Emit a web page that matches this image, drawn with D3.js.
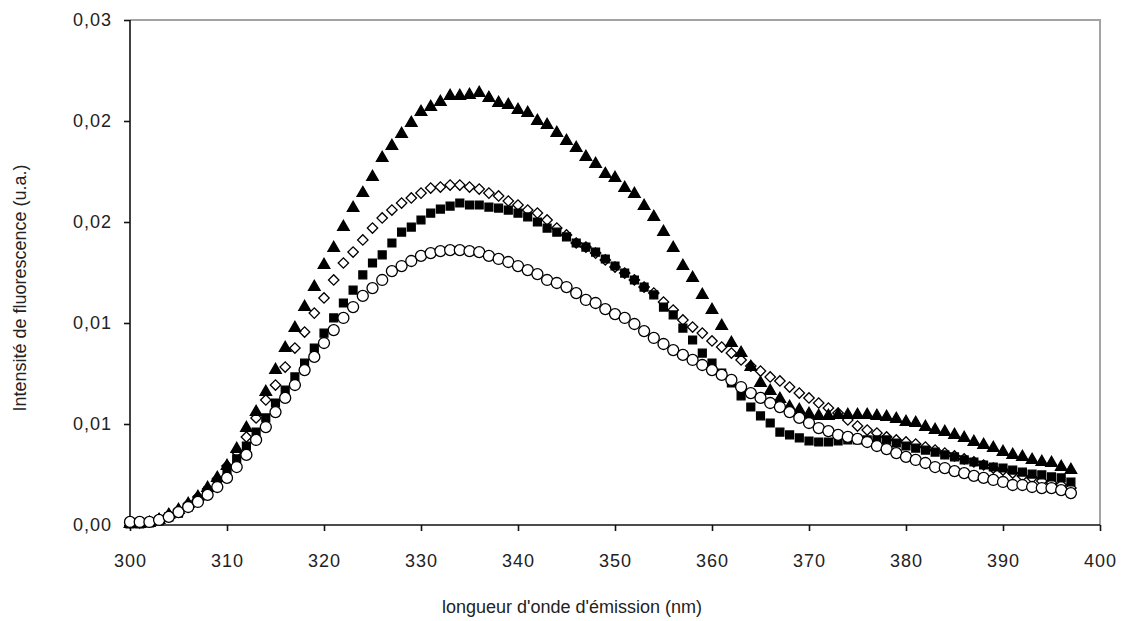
<!DOCTYPE html>
<html>
<head>
<meta charset="utf-8">
<script src="https://cdn.jsdelivr.net/npm/d3@7"></script>
<style>
body { margin: 0; background: #fff; }
text { font-family: Arial, "Liberation Sans", sans-serif; fill: #222; }
</style>
</head>
<body>
<div id="chart"></div>
<script>
var wavelengths = [300,301,302,303,304,305,306,307,308,309,310,311,312,313,314,315,316,317,318,319,
320,321,322,323,324,325,326,327,328,329,330,331,332,333,334,335,336,337,338,339,
340,341,342,343,344,345,346,347,348,349,350,351,352,353,354,355,356,357,358,359,
360,361,362,363,364,365,366,367,368,369,370,371,372,373,374,375,376,377,378,379,
380,381,382,383,384,385,386,387,388,389,390,391,392,393,394,395,396,397];

var triangles = [0.00005,0.00005,0.00010,0.00025,0.00050,0.00074,0.00104,0.00139,0.00183,0.00233,
0.00292,0.00376,0.00480,0.00559,0.00658,0.00767,0.00876,0.00975,0.01079,0.01178,
0.01287,0.01371,0.01475,0.01569,0.01643,0.01723,0.01817,0.01876,0.01936,0.01990,
0.02045,0.02069,0.02094,0.02124,0.02124,0.02129,0.02139,0.02114,0.02089,0.02079,
0.02054,0.02040,0.02000,0.01980,0.01941,0.01901,0.01866,0.01822,0.01787,0.01737,
0.01718,0.01668,0.01639,0.01579,0.01525,0.01450,0.01371,0.01282,0.01223,0.01139,
0.01064,0.00985,0.00901,0.00851,0.00782,0.00703,0.00663,0.00624,0.00584,0.00569,
0.00549,0.00540,0.00540,0.00545,0.00545,0.00545,0.00545,0.00540,0.00535,0.00525,
0.00510,0.00505,0.00485,0.00470,0.00460,0.00446,0.00431,0.00411,0.00396,0.00381,
0.00361,0.00347,0.00337,0.00322,0.00312,0.00307,0.00287,0.00272];

var diamonds = [0.00010,0.00010,0.00015,0.00030,0.00050,0.00074,0.00104,0.00139,0.00178,0.00228,
0.00292,0.00361,0.00436,0.00530,0.00619,0.00693,0.00782,0.00876,0.00955,0.01049,
0.01124,0.01213,0.01297,0.01351,0.01411,0.01470,0.01520,0.01559,0.01594,0.01619,
0.01643,0.01668,0.01673,0.01683,0.01683,0.01673,0.01663,0.01643,0.01629,0.01604,
0.01584,0.01559,0.01544,0.01510,0.01470,0.01436,0.01396,0.01376,0.01346,0.01312,
0.01277,0.01247,0.01213,0.01178,0.01148,0.01104,0.01064,0.01015,0.00980,0.00950,
0.00911,0.00881,0.00851,0.00817,0.00787,0.00762,0.00733,0.00713,0.00683,0.00653,
0.00629,0.00604,0.00579,0.00554,0.00520,0.00490,0.00470,0.00455,0.00436,0.00421,
0.00411,0.00401,0.00386,0.00371,0.00356,0.00342,0.00327,0.00312,0.00297,0.00282,
0.00272,0.00257,0.00243,0.00233,0.00218,0.00208,0.00198,0.00183];

var squares = [0.00005,0.00005,0.00010,0.00020,0.00040,0.00059,0.00089,0.00124,0.00168,0.00213,
0.00267,0.00327,0.00391,0.00460,0.00530,0.00604,0.00668,0.00733,0.00802,0.00876,
0.00950,0.01025,0.01099,0.01163,0.01238,0.01297,0.01337,0.01396,0.01450,0.01475,
0.01510,0.01544,0.01564,0.01579,0.01594,0.01584,0.01584,0.01574,0.01569,0.01559,
0.01544,0.01525,0.01500,0.01470,0.01450,0.01426,0.01396,0.01376,0.01351,0.01317,
0.01282,0.01247,0.01213,0.01178,0.01139,0.01079,0.01040,0.00975,0.00916,0.00851,
0.00802,0.00752,0.00703,0.00639,0.00584,0.00540,0.00505,0.00460,0.00446,0.00431,
0.00416,0.00411,0.00411,0.00416,0.00421,0.00421,0.00421,0.00421,0.00421,0.00406,
0.00391,0.00381,0.00371,0.00361,0.00347,0.00337,0.00322,0.00312,0.00297,0.00287,
0.00282,0.00272,0.00262,0.00252,0.00248,0.00238,0.00233,0.00213];

var circles = [0.00015,0.00015,0.00015,0.00025,0.00040,0.00064,0.00089,0.00114,0.00149,0.00188,
0.00233,0.00287,0.00347,0.00421,0.00485,0.00559,0.00629,0.00693,0.00767,0.00832,
0.00901,0.00965,0.01025,0.01079,0.01134,0.01173,0.01213,0.01257,0.01282,0.01307,
0.01332,0.01346,0.01356,0.01361,0.01361,0.01356,0.01351,0.01332,0.01317,0.01302,
0.01282,0.01262,0.01242,0.01213,0.01198,0.01178,0.01148,0.01114,0.01099,0.01069,
0.01044,0.01025,0.00995,0.00960,0.00926,0.00896,0.00866,0.00842,0.00817,0.00792,
0.00767,0.00743,0.00718,0.00683,0.00653,0.00629,0.00604,0.00584,0.00559,0.00530,
0.00505,0.00480,0.00465,0.00446,0.00436,0.00426,0.00411,0.00391,0.00376,0.00356,
0.00337,0.00322,0.00307,0.00287,0.00282,0.00267,0.00257,0.00243,0.00233,0.00223,
0.00213,0.00198,0.00198,0.00188,0.00183,0.00183,0.00173,0.00158];

var xTicks = [300,310,320,330,340,350,360,370,380,390,400];
var yTicks = [0,0.005,0.01,0.015,0.02,0.025];
var yTickLabels = ["0,00","0,01","0,01","0,02","0,02","0,03"];

var margin = {top: 20, right: 21, bottom: 96, left: 130};
var width = 1121 - margin.left - margin.right;
var height = 621 - margin.top - margin.bottom;

var svg = d3.select("#chart").append("svg")
  .attr("width", 1121)
  .attr("height", 621);

var g = svg.append("g")
  .attr("transform", "translate(" + margin.left + "," + margin.top + ")");

var x = d3.scaleLinear().domain([300, 400]).range([0, width]);
var y = d3.scaleLinear().domain([0, 0.025]).range([height, 0]);

// frame: grey top / right
g.append("path")
  .attr("d", "M0,0H" + width + "V" + height)
  .attr("fill", "none")
  .attr("stroke", "#a3a3a3")
  .attr("stroke-width", 2);

var xAxis = g.append("g")
  .attr("transform", "translate(0," + height + ")")
  .call(d3.axisBottom(x).tickValues(xTicks).tickSize(6).tickPadding(23).tickFormat(d3.format("d")));

var yAxis = g.append("g")
  .call(d3.axisLeft(y).tickValues(yTicks).tickSize(6).tickPadding(12)
    .tickFormat(function(d, i) { return yTickLabels[i]; }));

[xAxis, yAxis].forEach(function(a) {
  a.select(".domain").attr("stroke", "#111").attr("stroke-width", 1.6);
  a.selectAll(".tick line").attr("stroke", "#111").attr("stroke-width", 1.6);
  a.selectAll("text")
    .style("font-size", "18px")
    .style("letter-spacing", "1px")
    .attr("fill", "#222");
});
xAxis.select(".domain").attr("d", "M0,0H" + width);
yAxis.select(".domain").attr("d", "M0,0V" + height);

// series
var series = [
  {name: "diamond", values: diamonds, symbol: d3.symbolSquare, size: 54, rotate: 45, fill: "#fff"},
  {name: "square", values: squares, symbol: d3.symbolSquare, size: 62, rotate: 0, fill: "#000"},
  {name: "triangle", values: triangles, symbol: d3.symbolTriangle, size: 58, rotate: 0, fill: "#000"},
  {name: "circle", values: circles, symbol: d3.symbolCircle, size: 95, rotate: 0, fill: "#fff"}
];

series.forEach(function(s) {
  var pts = wavelengths.map(function(w, i) { return {x: w, y: s.values[i]}; });
  g.append("g").attr("class", "series " + s.name)
    .selectAll("path")
    .data(pts)
    .enter()
    .append("path")
    .attr("d", d3.symbol().type(s.symbol).size(s.size))
    .attr("transform", function(d) {
      return "translate(" + x(d.x) + "," + y(d.y) + ")" + (s.rotate ? " rotate(" + s.rotate + ")" : "");
    })
    .attr("fill", s.fill)
    .attr("stroke", "#000")
    .attr("stroke-width", 1.3);
});

// axis titles
svg.append("text")
  .attr("x", 572)
  .attr("y", 613)
  .attr("text-anchor", "middle")
  .style("font-size", "18px")
  .text("longueur d'onde d'émission (nm)");

svg.append("text")
  .attr("transform", "translate(26,288) rotate(-90)")
  .attr("text-anchor", "middle")
  .style("font-size", "18px")
  .text("Intensité de fluorescence (u.a.)");
</script>
</body>
</html>
